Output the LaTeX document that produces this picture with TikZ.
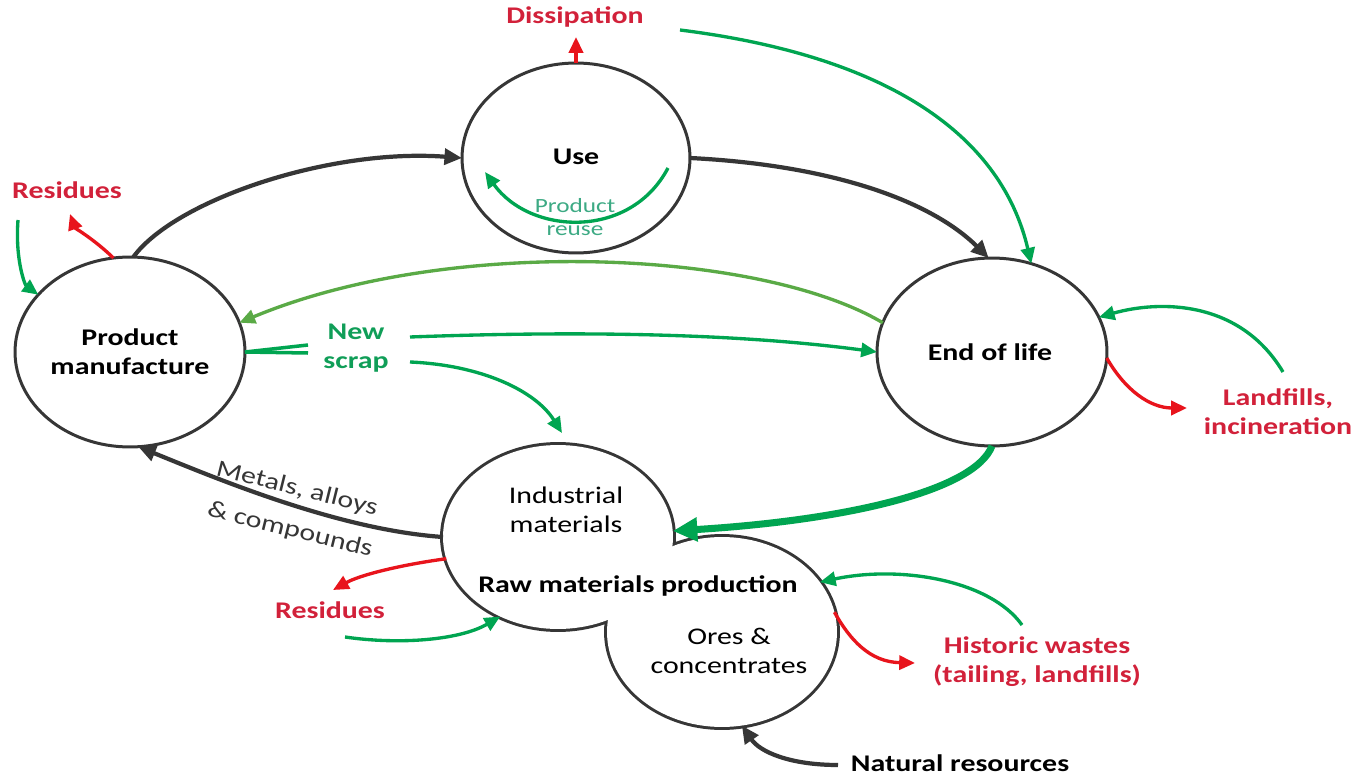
\documentclass[tikz,border=0pt]{standalone}
\usepackage{fontspec}
\setmainfont[FakeStretch=1.25]{Carlito}
\usetikzlibrary{arrows.meta,shapes.geometric}
\definecolor{dk}{HTML}{363636}
\definecolor{gr}{HTML}{00A551}
\definecolor{grtext}{HTML}{109E58}
\definecolor{grreuse}{HTML}{3DAA84}
\definecolor{olive}{HTML}{5AAA46}
\definecolor{rd}{HTML}{E8141C}
\definecolor{rdtext}{HTML}{D2213A}
\begin{document}
\begin{tikzpicture}[x=0.02cm,y=-0.02cm,
  stage/.style={ellipse, draw=dk, line width=1.7pt, fill=white, inner sep=0pt, outer sep=0pt},
  blobline/.style={ellipse, draw=dk, line width=3.4pt, inner sep=0pt, outer sep=0pt},
  blobfill/.style={ellipse, fill=white, inner sep=0pt, outer sep=0pt},
  bl/.style={font=\bfseries\fontsize{13.6}{16.6}\selectfont, align=center, inner sep=0pt},
  rl/.style={font=\fontsize{13.6}{16.6}\selectfont, align=center, inner sep=0pt},
  dkarrow/.style={draw=dk, line width=2.4pt, -{Triangle[length=10pt,width=9pt]}},
  grarrow/.style={draw=gr, line width=1.9pt, -{Triangle[length=9pt,width=8pt]}},
  rdarrow/.style={draw=rd, line width=1.9pt, -{Triangle[length=9pt,width=8pt]}}
]
\fill[white] (0,0) rectangle (1357,777);
\useasboundingbox (0,0) rectangle (1357,777);

% stages
\node[stage, minimum width=4.6cm, minimum height=3.8cm] (pm) at (130,352) {};
\node[stage, minimum width=4.56cm, minimum height=3.8cm] (use) at (576,158) {};
\node[stage, minimum width=4.6cm, minimum height=3.76cm] (eol) at (992,352) {};
\node[blobline, minimum width=4.6cm, minimum height=3.68cm] (rawA) at (558,537) {};
\node[blobline, minimum width=4.6cm, minimum height=3.8cm] (rawB) at (722,632) {};
\node[blobfill, minimum width=4.6cm, minimum height=3.68cm] (rawAf) at (rawA.center) {};
\node[blobfill, minimum width=4.6cm, minimum height=3.8cm] (rawBf) at (rawB.center) {};

% texts
\node[bl] (pmtxt) at (130,352) {Product\\manufacture};
\node[bl] (usetxt) at (576,157) {Use};
\node[bl] (eoltxt) at (990,352) {End of life};
\node[rl] (indus) at (566,510) {Industrial\\materials};
\node[bl] (rawtxt) at (638,586) {Raw materials production};
\node[rl] (ores) at (729,651) {Ores \&\\concentrates};
\node[font=\fontsize{11.5}{13.5}\selectfont, align=center, inner sep=0pt, text=grreuse] (reuse) at (575,217) {Product\\reuse};
\node[bl, text=rdtext] (dissip) at (575,17) {Dissipation};
\node[bl, text=rdtext] (resTop) at (67,190) {Residues};
\node[bl, text=grtext] (newscrap) at (356,348) {New\\scrap};
\node[bl, text=rdtext] (landf) at (1278,412) {Landfills,\\incineration};
\node[bl, text=rdtext] (resBot) at (330,610) {Residues};
\node[bl, text=rdtext] (hist) at (1037,662) {Historic wastes\\(tailing, landfills)};
\node[bl, text=black] (natres) at (960,763) {Natural resources};
\node[rl, text=dk, rotate=-14] (metals1) at (297,489) {Metals, alloys};
\node[rl, text=dk, rotate=-14] (metals2) at (290,530) {\& compounds};

% free-end coordinates
\coordinate (dissipEnd) at (576,37);
\coordinate (reuseS) at (668,168);
\coordinate (reuseE) at (485,172);
\coordinate (topGreenS) at (680,30);
\coordinate (resTopEnd) at (70,214);
\coordinate (pmInS) at (18,220);
\coordinate (newUp) at (308,345);
\coordinate (newDn) at (308,353);
\coordinate (newS) at (410,337);
\coordinate (scrapS) at (410,362);
\coordinate (scrapE) at (562,433);
\coordinate (landGS) at (1283,372);
\coordinate (landRE) at (1187,408);
\coordinate (resBotE) at (333,590);
\coordinate (resBotS) at (345,637);
\coordinate (histGS) at (1022,625);
\coordinate (histRE) at (915,663);
\coordinate (natS) at (838,765);

% dark flows
\draw[dkarrow] (pm.88) .. controls (175,200) and (330,148) .. (use.180);
\draw[dkarrow] (use.0) .. controls (830,165) and (930,200) .. (eol.92);
\draw[dkarrow] (rawA.180) .. controls (340,530) and (220,480) .. (pm.-85);
\draw[dkarrow] (natS) .. controls (790,765) and (760,752) .. (rawB.-78);

% red flows
\draw[rdarrow] (use.90) -- (dissipEnd);
\draw[rdarrow] (pm.100) .. controls (95,240) and (75,228) .. (resTopEnd);
\draw[rdarrow] (eol.-3) .. controls (1125,390) and (1150,408) .. (landRE);
\draw[rdarrow] (rawA.191) .. controls (400,565) and (360,575) .. (resBotE);
\draw[rdarrow] (rawB.10) .. controls (850,640) and (870,662) .. (histRE);

% green flows
\draw[grarrow] (reuseS) .. controls (630,240) and (530,235) .. (reuseE);
\draw[grarrow] (topGreenS) .. controls (880,55) and (1000,130) .. (eol.66);
\draw[grarrow] (pmInS) .. controls (15,260) and (25,285) .. (pm.148);
\draw[grarrow, draw=olive] (eol.165) .. controls (760,250) and (450,235) .. (pm.15);
\draw[draw=gr, line width=2pt] (pm.0) -- (newUp);
\draw[draw=gr, line width=2pt] (pm.0) -- (newDn);
\draw[grarrow] (newS) .. controls (600,330) and (750,335) .. (eol.180);
\draw[grarrow] (scrapS) .. controls (480,365) and (535,390) .. (scrapE);
\draw[draw=gr, line width=4pt, -{Triangle[length=14pt,width=13pt]}] (eol.-90) .. controls (975,490) and (850,520) .. (rawA.3);
\draw[grarrow] (landGS) .. controls (1240,300) and (1160,300) .. (eol.18);
\draw[grarrow] (resBotS) .. controls (400,645) and (460,640) .. (rawA.234);
\draw[grarrow] (histGS) .. controls (990,580) and (900,565) .. (rawB.27);
\end{tikzpicture}
\end{document}
